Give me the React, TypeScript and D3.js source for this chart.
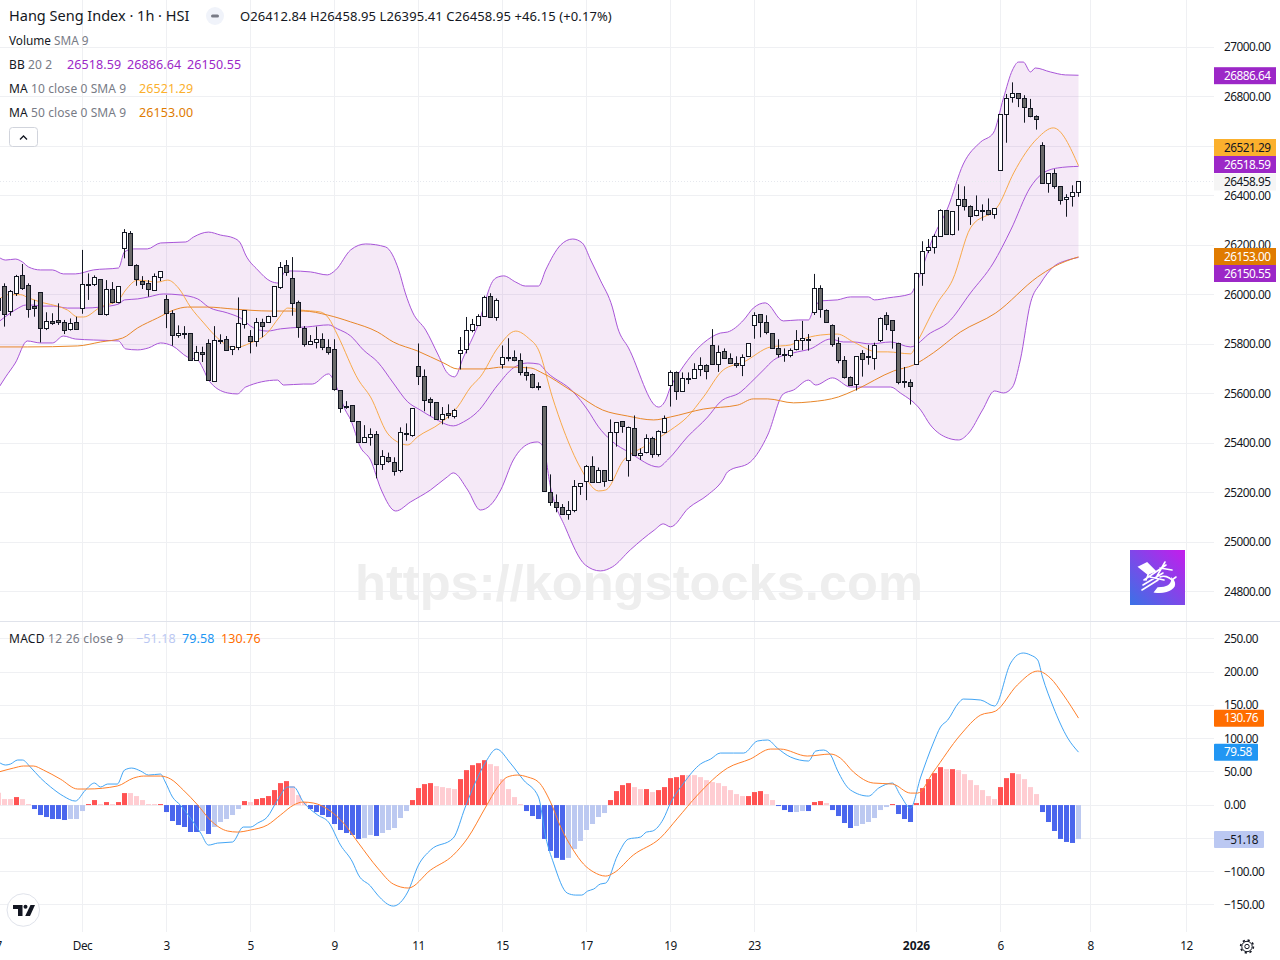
import React from 'react';
import * as d3 from 'd3';

// o, h, l, c per hourly bar
const ohlc: number[][] = [
  [25985,25999,25918,25938],[26032,26046,25871,25921],[25933,26019,25915,26014],[26005,26080,25995,26074],[26078,26124,26019,26026],
  [26038,26046,25907,25941],[25953,25979,25911,25945],[26008,26008,25807,25864],[25863,25929,25857,25892],[25892,25925,25878,25883],
  [25895,25965,25878,25888],[25888,25898,25841,25856],[25860,25904,25855,25884],[25888,25911,25860,25860],[25945,26181,25923,26042],
  [26042,26086,25979,26041],[26042,26078,26035,26070],[26062,26062,25919,25921],[25919,26059,25915,26022],[26022,26051,25965,25969],
  [25969,26034,25965,26034],[26187,26265,26147,26252],[26248,26257,26117,26119],[26119,26123,26036,26062],[26053,26075,26023,26042],
  [26046,26059,25992,26022],[26018,26086,26016,26074],[26070,26094,26055,26094],[25981,25999,25865,25925],[25925,25937,25794,25836],
  [25836,25876,25826,25844],[25844,25873,25822,25838],[25844,25844,25733,25735],[25735,25793,25733,25767],[25767,25790,25728,25759],
  [25803,25820,25653,25654],[25650,25873,25649,25816],[25816,25840,25801,25809],[25820,25833,25774,25775],[25779,25791,25756,25791],
  [25787,25989,25776,25884],[25880,25937,25863,25937],[25832,25857,25763,25812],[25812,25906,25790,25888],[25888,25903,25828,25872],
  [25888,25915,25887,25912],[25912,26034,25911,26034],[26031,26132,26023,26108],[26116,26140,26076,26088],[26066,26152,25915,25965],
  [25969,25976,25826,25868],[25864,25873,25790,25799],[25799,25837,25797,25812],[25807,25871,25783,25820],[25820,25844,25776,25787],
  [25787,25820,25758,25767],[25779,25820,25612,25618],[25614,25614,25523,25541],[25549,25570,25539,25545],[25553,25554,25486,25488],
  [25488,25488,25402,25403],[25403,25473,25402,25424],[25424,25460,25390,25436],[25436,25449,25258,25315],[25315,25372,25292,25347],
  [25343,25362,25321,25327],[25323,25343,25269,25286],[25290,25464,25282,25444],[25440,25480,25410,25436],[25433,25541,25426,25541],
  [25710,25803,25635,25670],[25670,25698,25529,25573],[25577,25585,25510,25565],[25565,25565,25494,25496],[25496,25546,25476,25517],
  [25521,25557,25500,25512],[25508,25539,25500,25533],[25763,25829,25698,25775],[25779,25910,25763,25856],[25856,25902,25848,25880],
  [25876,25921,25875,25913],[25913,25996,25911,25989],[25993,26006,25907,25908],[25908,25985,25895,25977],[25719,25795,25701,25747],
  [25747,25824,25731,25743],[25747,25775,25731,25735],[25735,25763,25674,25686],[25686,25709,25653,25674],[25678,25682,25622,25626],
  [25628,25646,25614,25627],[25549,25549,25204,25205],[25201,25274,25147,25161],[25161,25193,25121,25141],[25141,25154,25110,25112],
  [25112,25166,25091,25129],[25129,25251,25121,25226],[25226,25238,25191,25238],[25246,25312,25170,25306],[25306,25347,25240,25242],
  [25242,25302,25240,25290],[25290,25290,25224,25246],[25250,25496,25248,25444],[25444,25484,25386,25484],[25488,25488,25442,25468],
  [25331,25467,25265,25464],[25460,25512,25350,25351],[25351,25379,25332,25359],[25363,25436,25359,25420],[25420,25426,25341,25355],
  [25355,25452,25346,25448],[25444,25512,25440,25500],[25634,25694,25548,25686],[25686,25690,25575,25610],[25610,25686,25608,25662],
  [25662,25686,25639,25661],[25662,25723,25661,25698],[25698,25747,25671,25715],[25715,25719,25658,25690],[25795,25861,25717,25719],
  [25719,25795,25688,25767],[25771,25783,25742,25743],[25743,25763,25720,25723],[25723,25751,25705,25715],[25715,25759,25671,25747],
  [25751,25804,25750,25804],[25876,25929,25822,25917],[25921,25922,25828,25888],[25888,25917,25840,25848],[25844,25844,25782,25783],
  [25783,25820,25746,25759],[25759,25783,25729,25755],[25755,25783,25747,25775],[25779,25857,25775,25816],[25816,25894,25776,25824],
  [25820,25841,25774,25819],[25929,26084,25918,26026],[26026,26038,25907,25941],[25937,25941,25887,25888],[25876,25880,25790,25799],
  [25803,25828,25723,25735],[25735,25752,25661,25666],[25666,25670,25632,25634],[25638,25751,25613,25751],[25763,25776,25669,25739],
  [25752,25797,25717,25751],[25743,25806,25697,25795],[25816,25908,25809,25904],[25917,25929,25857,25880],[25896,25896,25782,25856],
  [25803,25806,25638,25646],[25650,25708,25624,25646],[25646,25658,25556,25630],[25719,26089,25717,26086],[26086,26216,26036,26175],
  [26179,26225,26168,26191],[26191,26244,26166,26236],[26236,26345,26234,26341],[26341,26341,26243,26244],[26244,26337,26240,26337],
  [26361,26446,26259,26385],[26385,26438,26340,26357],[26357,26361,26282,26317],[26321,26401,26317,26341],[26341,26365,26299,26340],
  [26341,26389,26321,26325],[26325,26349,26307,26349],[26502,26730,26501,26729],[26729,26811,26614,26793],[26797,26858,26776,26814],
  [26814,26814,26758,26793],[26793,26806,26695,26757],[26753,26791,26717,26721],[26721,26725,26667,26709],[26604,26616,26449,26450],
  [26450,26492,26412,26490],[26490,26507,26428,26438],[26438,26438,26364,26381],[26385,26406,26315,26393],[26397,26442,26356,26413],
  [26412.84,26458.95,26395.41,26458.95],
];

// indicator lines: [bar, value]
const bbUpper: number[][] = [
  [0,26152],[1.2,26140],[2.8,26144],[4,26132],[5,26112],[7,26100],[9,26100],[10.8,26084],[12.8,26084],[15.8,26100],[20,26108],[21,26173],
  [22.5,26185],[24.8,26185],[27,26209],[31.2,26213],[32.5,26233],[35,26253],[37,26241],[39.2,26229],[40.3,26209],[41.2,26160],[43.2,26100],
  [45.3,26055],[46.7,26047],[47.7,26092],[48.7,26096],[52,26092],[54.8,26080],[56.2,26100],[58.7,26181],[61.2,26205],[64.5,26193],[66.7,26100],
  [67.8,26007],[69,25930],[71.2,25857],[73.3,25756],[74.8,25684],[76,25668],[77.5,25748],[79.8,25870],[82.5,26059],[83.3,26072],[84.2,26076],
  [86.2,26051],[87.8,26035],[90,26035],[91.2,26100],[93.7,26201],[95.7,26225],[97.3,26209],[98.7,26140],[100.3,26059],[102.3,25950],[103.2,25866],
  [105,25785],[110,25546],[111.2,25575],[112,25627],[113.2,25676],[117.5,25805],[120.3,25845],[121.5,25849],[124.2,25898],[125.8,25946],[127.8,25967],
  [130.8,25894],[133.3,25898],[135,25898],[135.8,25938],[137,25975],[139.8,25979],[142,25991],[145,25991],[146,25979],[148.2,25987],[152,26003],
  [153.2,26059],[155.8,26233],[158.2,26350],[160.8,26528],[163.7,26617],[165.8,26653],[167.5,26795],[169,26908],[170,26940],[170.8,26940],[172,26900],
  [172.8,26916],[175.3,26900],[177.8,26888],[180,26886.64],
];
const bbBasis: number[][] = [
  [0,25890],[2,25926],[3.3,25946],[4.5,25958],[5.8,25958],[7,25954],[9.2,25954],[11.5,25946],[14.2,25946],[17,25950],[20,25962],[21,25979],[23.2,25983],
  [25,25991],[27.5,26003],[30.3,25999],[33.2,25983],[35,25950],[38.2,25926],[40.3,25906],[42.5,25866],[44.8,25853],[47,25862],[48.7,25866],[51.5,25870],
  [55,25878],[56.5,25862],[58.7,25833],[60.8,25777],[63.2,25728],[65.8,25643],[68.2,25567],[70.3,25534],[72.5,25502],[75.8,25470],[77.5,25486],[79.8,25526],
  [83.2,25635],[85.8,25704],[88.2,25724],[90,25720],[91.5,25684],[95.8,25607],[98.2,25534],[100,25466],[102,25413],[105.3,25360],[110,25304],[111.5,25332],
  [114.8,25425],[118.2,25506],[120.3,25567],[123.7,25607],[125.3,25643],[127.5,25696],[129.2,25736],[132.5,25765],[135.3,25781],[138.7,25821],[140.8,25809],
  [142.5,25809],[145.3,25801],[148.7,25809],[152,25789],[155.3,25845],[158.2,25886],[162,26007],[165.8,26128],[168.7,26261],[172,26435],[173.7,26484],
  [176.5,26512],[180,26518.59],
];
const bbLower: number[][] = [
  [0,25623],[1.2,25668],[2.8,25724],[4.8,25813],[7,25805],[9,25805],[10.8,25833],[12.8,25821],[15.8,25817],[20,25813],[21.2,25781],[23.2,25777],[25,25785],
  [27,25805],[29,25793],[31.5,25748],[33.2,25736],[34.2,25696],[35,25655],[38.2,25603],[39.8,25599],[41.2,25627],[46.5,25655],[47.5,25635],[50.8,25639],
  [52.3,25639],[55,25680],[56.2,25635],[57.8,25534],[58.7,25494],[60.3,25385],[62,25332],[63.8,25211],[66.2,25126],[68.7,25163],[72,25211],[74.8,25264],
  [75.8,25280],[78.2,25211],[80.3,25130],[82,25150],[83.7,25211],[85.8,25332],[88.7,25401],[89.8,25405],[90.8,25385],[92,25223],[94.5,25058],[97.8,24908],
  [100.3,24884],[102.3,24900],[105.3,24969],[109.3,25049],[110.8,25074],[112,25062],[115,25138],[118.2,25191],[120.7,25251],[121.5,25284],[125.3,25324],
  [128.2,25433],[130.8,25599],[132.5,25615],[135,25655],[136.2,25635],[139,25664],[142,25627],[148.7,25627],[150.3,25603],[153.7,25534],[155.3,25474],
  [157.8,25425],[160,25413],[161.7,25441],[164,25534],[166,25611],[167.5,25603],[169,25627],[170.3,25736],[172,25967],[173.7,26047],[175.8,26112],
  [178.2,26140],[180,26150.55],
];
const ma10: number[][] = [
  [0,25979],[1.5,26000],[3.7,26000],[5,25987],[7.5,25967],[9.8,25954],[11.5,25938],[13.2,25910],[14.2,25910],[17,25950],[20,25979],[21.2,26019],[23.2,26059],
  [26.5,26051],[28.2,26059],[30,26027],[32,25950],[34.2,25886],[36.5,25825],[39.2,25785],[42,25805],[44.8,25845],[46.7,25906],[48.2,25946],[50.3,25938],
  [53.7,25930],[55,25906],[56.5,25837],[60,25655],[62,25587],[64.8,25441],[66.5,25405],[68.2,25393],[69.8,25425],[73.7,25482],[76.5,25546],[78.7,25627],
  [80.3,25668],[83.2,25785],[86.2,25853],[88.3,25825],[90,25777],[92.3,25587],[94.2,25453],[97,25300],[100,25207],[101.2,25211],[104.2,25332],[107.5,25385],
  [112,25453],[114.8,25506],[117.5,25587],[120.8,25696],[124.2,25728],[128.7,25789],[132,25797],[133.7,25817],[137,25837],[139.8,25841],[142.5,25809],
  [146.5,25769],[148.2,25769],[152,25761],[153.3,25817],[156.5,25967],[159,26059],[162,26270],[166.7,26362],[169.2,26492],[173.2,26633],[175.8,26674],
  [180,26521.29],
];
const ma50: number[][] = [
  [0,25789],[4.8,25789],[13.2,25793],[17,25809],[20.7,25825],[23.2,25866],[26.5,25906],[29.2,25938],[31.5,25950],[34.8,25950],[39.2,25942],[45.3,25934],
  [50.8,25934],[54.8,25918],[58.7,25890],[63.2,25849],[65.8,25809],[69.8,25773],[74.2,25724],[76.5,25700],[80.8,25700],[84.2,25708],[88.7,25704],[90.3,25688],
  [95.8,25607],[100.7,25534],[104.8,25510],[109.2,25494],[112,25506],[117.5,25538],[123.2,25554],[125.8,25579],[128.2,25579],[132.5,25563],[135.3,25567],
  [140,25587],[142.8,25615],[149.2,25692],[152.5,25716],[155.8,25765],[160.3,25849],[166.2,25926],[173.2,26072],[175.8,26112],[180,26153],
];
const macdLine: number[][] = [
  [0,64.7],[1.2,60.2],[2,61.7],[3.2,67.7],[4,67.7],[5.3,57.2],[7,40.6],[8.7,27.1],[10.8,13.5],[12.8,6],[14.5,22.6],[16,33.1],[17,27.1],[18.2,31.6],[19.8,31.6],
  [21,52.6],[22.2,55.6],[23.7,51.1],[25,45.1],[27,46.6],[27.8,34.6],[29,12],[30.3,0],[32,-19.6],[33.7,-42.1],[35,-60.2],[36.5,-57.2],[39,-55.6],[40.8,-33.1],
  [42,-33.1],[43.2,-27.1],[44.8,-18],[46.5,7.5],[48.2,27.1],[49.2,27.1],[50.8,4.5],[53.2,-15],[55,-25.6],[57,-60.2],[59,-85.7],[60,-105.3],[62,-121.8],[63.2,-135.4],
  [65.8,-151.9],[68.2,-130.8],[70,-90.2],[72,-67.7],[75.8,-49.6],[77.8,-3],[79.5,34.6],[81.2,64.7],[83,84.2],[85.3,63.2],[87.5,37.6],[90,12],[91.2,-48.1],[92.5,-87.2],
  [94.8,-132.4],[96.2,-135.4],[97.2,-135.4],[98.2,-129.3],[99.2,-126.3],[100.3,-118.8],[101.2,-117.3],[103.2,-75.2],[105,-51.1],[107,-48.1],[108,-40.6],[109,-39.1],
  [110.8,-21.1],[112,3],[114.2,33.1],[117,61.7],[118.7,69.2],[120.3,78.2],[122.5,78.2],[124.2,78.2],[126.5,96.3],[128.2,97.8],[129.8,85.7],[132,72.2],[135,66.2],
  [136.2,81.2],[137.5,82.7],[138.7,75.2],[139.8,52.6],[142,22.6],[145,13.5],[146.7,25.6],[149,33.1],[150.3,15],[152,-4.5],[153.7,42.1],[155.8,93.2],[157,117.3],
  [158.2,127.8],[160,153.4],[160.8,159.4],[163.7,157.9],[166,148.9],[168.7,213.6],[169.8,225.6],[170.8,228.6],[172,225.6],[173.2,218.1],[174,192.5],[175.8,147.4],
  [178.2,100.8],[180,79.58],
];
const macdSignal: number[][] = [
  [0,49.6],[2.5,55.6],[4.2,58.7],[5.8,58.7],[7.5,52.6],[10.3,39.1],[13.2,24.1],[14.8,24.1],[19.8,28.6],[22.5,40.6],[24.2,43.6],[27,43.6],[28.7,39.1],[30.8,22.6],
  [33.2,0],[35.3,-22.6],[38.2,-39.1],[39.8,-40.6],[42,-37.6],[44.8,-30.1],[47,-15],[49.2,0],[50.7,4.5],[52.5,3],[55.3,-9],[57.5,-27.1],[60,-57.2],[63.2,-94.8],
  [65.8,-118.8],[68.3,-124.8],[72,-97.8],[75.8,-75.2],[78.2,-49.6],[81.2,-3],[83.2,27.1],[84.8,42.1],[86.5,45.1],[88.2,42.1],[90,34.6],[92,4.5],[93.7,-33.1],
  [95.8,-67.7],[97.5,-88.7],[99.2,-100.8],[101.2,-106.8],[102.5,-102.3],[105.8,-75.2],[110.3,-49.6],[113.2,-19.6],[116.5,15],[121.5,55.6],[125.3,69.2],[128.7,84.2],
  [130.3,84.2],[134.8,73.7],[138.7,76.7],[140.3,70.7],[142.5,49.6],[145.8,33.1],[149,31.6],[152,18],[153.2,18],[155.8,49.6],[160.3,105.3],[163.7,135.4],[166.2,141.4],
  [169.8,180.5],[173.2,201.5],[175.3,191],[177.5,165.4],[180,130.76],
];
const macdHist: number[] = [
  18.5,9,9,12,9,1.5,-6,-15,-18,-21,-21,-22.5,-21,-21,-9,1.5,7.5,1.5,4.5,1.5,4.5,18,18,13.5,7.5,1.5,1.5,1.5,-10.5,-24,-30,-33,-40.5,-40.5,-39,-43.5,-33,-25.5,-21,-15,
  -6,6,4.5,9,10.5,13.5,22.5,33,36,28.5,15,4.5,-6,-10.5,-15,-18,-28.5,-37.5,-42,-45,-51,-49.5,-45,-46.5,-42,-37.5,-34.5,-19.5,-9,7.5,25.5,31.5,33,28.5,27,25.5,24,39,
  52.5,60,63,67.5,61.5,58.5,39,24,12,1.5,-9,-16.5,-21,-51,-69,-79.5,-82.5,-79.5,-66,-54,-37.5,-28.5,-18,-12,7.5,21,30,33,27,24,24,19.5,22.5,27,40.5,42,45,45,45,42,
  37.5,34.5,33,28.5,22.5,16.5,13.5,13.5,19.5,21,16.5,7.5,-1.5,-7.5,-10.5,-10.5,-9,-9,4.5,6,3,-7.5,-16.5,-27,-34.5,-31.5,-28.5,-25.5,-19.5,-7.5,-3,1.5,-13.5,-21,-25.5,
  3,25.5,39,48,57,54,54,52.5,46.5,37.5,30,22.5,13.5,9,27,40.5,48,46.5,39,27,16.5,-10.5,-25.5,-39,-51,-55.5,-57,-51.18,
];
// bars drawn in the paler histogram shade
const histFaded: number[] = [
  0,1,2,4,5,12,13,14,17,19,22,23,24,25,26,34,36,37,38,39,40,42,49,50,51,61,62,64,65,66,67,68,73,74,75,76,82,83,84,85,86,87,95,96,97,98,99,100,101,106,107,109,
  115,116,117,118,119,120,121,122,123,124,128,129,133,134,138,143,144,145,146,147,148,158,160,161,162,163,164,165,166,170,171,172,173,180,
];

const priceTicks = [27000,26800,26600,26400,26200,26000,25800,25600,25400,25200,25000,24800];
const macdTicks = [250,200,150,100,50,0,-50,-100,-150];
const timeBars = [0,14,28,42,56,70,84,98,112,126,153,167,182,198];
const timeLabels = ['7','Dec','3','5','9','11','15','17','19','23','2026','6','8','12'];

const priceTags = [
  { label: '26886.64', y: 75.7, bg: '#9c27c7', fg: '#fff' },
  { label: '26521.29', y: 147.5, bg: '#fbb02d', fg: '#131722' },
  { label: '26518.59', y: 164.5, bg: '#9c27c7', fg: '#fff' },
  { label: '26458.95', y: 182, bg: '#f5f5f5', fg: '#131722' },
  { label: '26153.00', y: 256.5, bg: '#e07b00', fg: '#fff' },
  { label: '26150.55', y: 273.5, bg: '#9c27c7', fg: '#fff' },
];
const macdTags = [
  { label: '130.76', y: 718.3, w: 50, bg: '#ff6d00', fg: '#fff' },
  { label: '79.58', y: 752.3, w: 44, bg: '#2196f3', fg: '#fff' },
  { label: '\u221251.18', y: 839.5, w: 50, bg: '#bbc8f2', fg: '#131722' },
];

const FONT = '"Noto Sans", sans-serif';
const INK = '#131722';
const MUTED = '#787b86';
const PURPLE = '#a855d8';
const AXIS_TEXT = { fontSize: 11.8, letterSpacing: -0.5 };
const VALUE_TEXT = { fontSize: 12.5, letterSpacing: 0.1 };
const LABEL_TEXT = { fontSize: 12, letterSpacing: 0.1 };

const x = d3.scaleLinear().domain([0, 198]).range([-1.5, 1186.5]);
const py = d3.scaleLinear().domain([24800, 27000]).range([591.7, 47.2]);
const my = d3.scaleLinear().domain([-150, 250]).range([904.8, 638.8]);

const priceLine = d3.line<number[]>().x(d => x(d[0])).y(d => py(d[1])).curve(d3.curveMonotoneX);
const macdPath = d3.line<number[]>().x(d => x(d[0])).y(d => my(d[1])).curve(d3.curveMonotoneX);

const tickFmt = (v: number) => (v < 0 ? '\u2212' : '') + Math.abs(v).toFixed(2);
const crisp = (v: number) => Math.round(v - 0.5) + 0.5;

export default function App() {
  // band outline: upper edge forward, lower edge back
  const lowerBack = priceLine(bbLower.slice().reverse())!;
  const bandPath = priceLine(bbUpper) + 'L' + lowerBack.slice(1) + 'Z';
  const zeroY = my(0);
  const faded = new Set(histFaded);

  return (
    <svg width={1280} height={960} style={{ position: 'absolute', left: 0, top: 0, background: '#fff' }} fontFamily={FONT} fontSize={12}>
      {/* grid */}
      <g stroke="#eff0f3" strokeWidth={1}>
        {timeBars.map(b => <line key={b} x1={crisp(x(b))} x2={crisp(x(b))} y1={0} y2={932} />)}
        {priceTicks.map(t => <line key={t} x1={0} x2={1214} y1={crisp(py(t))} y2={crisp(py(t))} />)}
        {macdTicks.map(t => <line key={t} x1={0} x2={1214} y1={crisp(my(t))} y2={crisp(my(t))} />)}
      </g>
      <line x1={0} x2={1280} y1={621.5} y2={621.5} stroke="#e0e3eb" />

      {/* watermark */}
      <text x={639} y={600} textAnchor="middle" fontFamily='"Liberation Sans", sans-serif' fontWeight="bold" fontSize={50.6} fill="#eeeeee">https://kongstocks.com</text>

      {/* bollinger band and moving averages */}
      <path d={bandPath} fill="#9c27b0" fillOpacity={0.1} stroke="none" />
      <path d={priceLine(bbUpper)!} fill="none" stroke={PURPLE} strokeWidth={1} />
      <path d={priceLine(bbBasis)!} fill="none" stroke={PURPLE} strokeWidth={1} />
      <path d={priceLine(bbLower)!} fill="none" stroke={PURPLE} strokeWidth={1} />
      <path d={priceLine(ma10)!} fill="none" stroke="#f8a94a" strokeWidth={1} />
      <path d={priceLine(ma50)!} fill="none" stroke="#e8872a" strokeWidth={1} />

      <line x1={0} x2={1214} y1={181.5} y2={181.5} stroke="#e6e8ee" strokeDasharray="1 2" />

      {/* candles */}
      <g stroke={INK} strokeWidth={1}>
        {ohlc.map((d, i) => {
          const [o, h, l, c] = d;
          const cx = x(i);
          const top = crisp(py(Math.max(o, c)));
          const bottom = crisp(py(Math.min(o, c)));
          return (
            <g key={i}>
              <line x1={cx} x2={cx} y1={py(h)} y2={py(l)} />
              <rect x={cx - 2} y={top} width={4} height={Math.max(bottom - top, 1)} fill={c > o ? '#ffffff' : '#6a6a6a'} />
            </g>
          );
        })}
      </g>

      {/* macd */}
      <g>
        {macdHist.map((v, i) => {
          const y = my(v);
          const light = faded.has(i);
          const fill = v >= 0 ? (light ? '#ffcdd2' : '#ff5252') : (light ? '#bcc9f1' : '#4a66ed');
          return <rect key={i} x={x(i) - 2.5} y={Math.min(y, zeroY)} width={5} height={Math.abs(y - zeroY)} fill={fill} />;
        })}
      </g>
      <path d={macdPath(macdLine)!} fill="none" stroke="#42a5f5" strokeWidth={1} />
      <path d={macdPath(macdSignal)!} fill="none" stroke="#ff7f2a" strokeWidth={1} />

      {/* header legend */}
      <text x={9} y={21} fontSize={14.5} fill={INK}>Hang Seng Index · 1h · HSI</text>
      <rect x={206} y={7} width={18} height={18} rx={9} fill="#f0f3fa" />
      <rect x={211} y={14.5} width={8} height={3} rx={1.5} fill={MUTED} />
      <text x={240} y={21} fontSize={13} letterSpacing={0.1} fill={INK}>O26412.84 H26458.95 L26395.41 C26458.95 +46.15 (+0.17%)</text>

      <text x={9} y={44.5} fontSize={11.8} fill={INK}>Volume <tspan fill={MUTED}>SMA 9</tspan></text>
      <text x={9} y={68.5} {...LABEL_TEXT} fill={INK}>BB <tspan fill={MUTED}>20 2</tspan></text>
      <text x={67} y={68.5} {...VALUE_TEXT} fill="#9c27c7">26518.59</text>
      <text x={127} y={68.5} {...VALUE_TEXT} fill="#9c27c7">26886.64</text>
      <text x={187} y={68.5} {...VALUE_TEXT} fill="#9c27c7">26150.55</text>
      <text x={9} y={92.5} {...LABEL_TEXT} fill={INK}>MA <tspan fill={MUTED}>10 close 0 SMA 9</tspan></text>
      <text x={139} y={92.5} {...VALUE_TEXT} fill="#fbb02d">26521.29</text>
      <text x={9} y={116.5} {...LABEL_TEXT} fill={INK}>MA <tspan fill={MUTED}>50 close 0 SMA 9</tspan></text>
      <text x={139} y={116.5} {...VALUE_TEXT} fill="#e07b00">26153.00</text>
      <rect x={9.5} y={127.5} width={28} height={19} rx={3} fill="#fff" stroke="#d1d4dc" />
      <path d="M20 139.5l3.5-3.5 3.5 3.5" fill="none" stroke={INK} strokeWidth={1.3} />

      <text x={9} y={643} fontSize={12} letterSpacing={0.25} fill={INK}>MACD <tspan fill={MUTED}>12 26 close 9</tspan></text>
      <text x={136} y={643} {...VALUE_TEXT} fill="#bbc8f2">{'\u221251.18'}</text>
      <text x={182} y={643} {...VALUE_TEXT} fill="#2196f3">79.58</text>
      <text x={221} y={643} {...VALUE_TEXT} fill="#ff6d00">130.76</text>

      {/* axis labels */}
      <g fill={INK}>
        {priceTicks.map(t => <text key={t} x={1224} y={py(t) + 4} {...AXIS_TEXT}>{tickFmt(t)}</text>)}
        {macdTicks.map(t => <text key={t} x={1224} y={my(t) + 4} {...AXIS_TEXT}>{tickFmt(t)}</text>)}
        {timeBars.map((b, i) => (
          timeLabels[i] === '2026'
            ? <text key={b} x={x(b)} y={950} textAnchor="middle" fontWeight="bold">{timeLabels[i]}</text>
            : <text key={b} x={x(b)} y={950} textAnchor="middle" fontSize={11.8} letterSpacing={-0.5}>{timeLabels[i]}</text>
        ))}
      </g>

      {/* last value tags */}
      {priceTags.map(t => (
        <g key={t.label}>
          <rect x={1214} y={t.y - 8.5} width={62} height={17} fill={t.bg} />
          <text x={1224} y={t.y + 4} {...AXIS_TEXT} fill={t.fg}>{t.label}</text>
        </g>
      ))}
      {macdTags.map(t => (
        <g key={t.label}>
          <rect x={1214} y={t.y - 8.5} width={t.w} height={17} rx={1} fill={t.bg} />
          <text x={1224} y={t.y + 4} {...AXIS_TEXT} fill={t.fg}>{t.label}</text>
        </g>
      ))}

      {/* stamp */}
      <defs>
        <linearGradient id="stamp" x1="0" y1="1" x2="1" y2="0">
          <stop offset="0" stopColor="#3a72e6" />
          <stop offset="1" stopColor="#c51cec" />
        </linearGradient>
      </defs>
      <rect x={1130} y={550} width={55} height={55} fill="url(#stamp)" />
      <g fill="none" stroke="#fff" strokeWidth={1.6} strokeLinecap="round">
        <path d="M1139 567l8-4 8 8-7 3z" fill="#fff" />
        <path d="M1144 580l22-15M1143 585l20-12M1142 590l16-10M1150 570l-4 10M1165 562l-8 14M1160 568l12 2M1150 577l14 3" />
        <path d="M1155 592c8 1 16-1 19-6 1-3 0-5-2-7 0 6-6 9-14 9z" fill="#fff" />
        <path d="M1160 577c4-2 9 0 12 3l4-3" />
      </g>

      {/* tradingview badge */}
      <circle cx={23.3} cy={910} r={16.3} fill="#fff" stroke="#e0e3eb" />
      <path d="M13 905h9.5v11h-4.5v-7h-5z" fill={INK} />
      <circle cx={25.5} cy={906.7} r={2} fill={INK} />
      <path d="M30.5 905h4.5l-5 11h-4.8z" fill={INK} />

      {/* settings gear */}
      <g fill="none" stroke={INK} strokeWidth={1}>
        <circle cx={1247} cy={946.5} r={2.2} />
        <circle cx={1247} cy={946.5} r={5.2} />
        <circle cx={1247} cy={946.5} r={6.4} strokeWidth={1.6} strokeDasharray="2.2 2.8" />
      </g>
    </svg>
  );
}
